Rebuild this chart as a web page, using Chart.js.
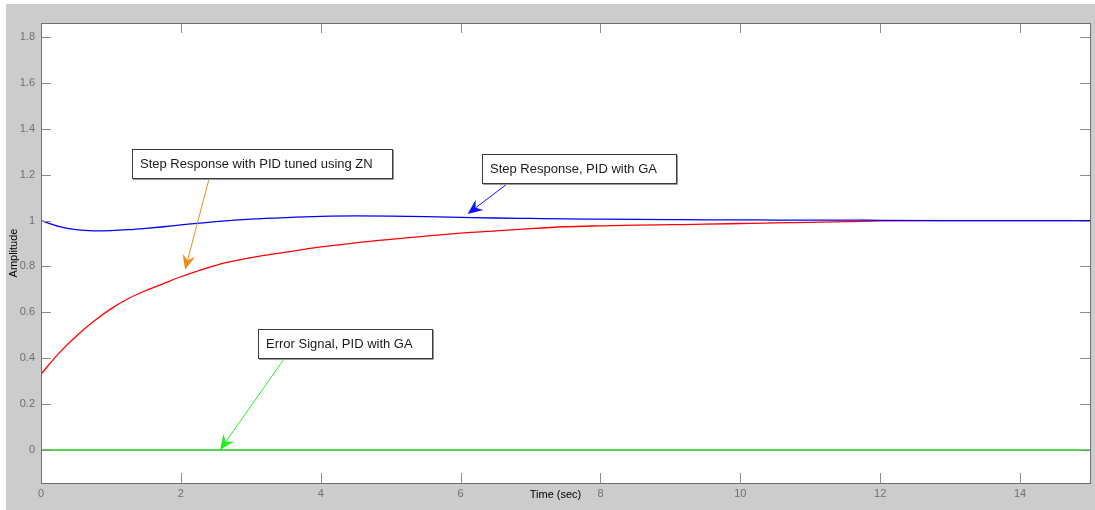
<!DOCTYPE html>
<html>
<head>
<meta charset="utf-8">
<script src="https://cdn.jsdelivr.net/npm/chart.js@4/dist/chart.umd.min.js"></script>
<style>
  html, body { margin: 0; padding: 0; background: #ffffff; }
  #wrap { width: 1095px; height: 510px; }
</style>
</head>
<body>
<div id="wrap"><canvas id="c" width="1095" height="510"></canvas></div>
<script>
// Sample times (sec)
const timeSec = [0, 0.25, 0.5, 0.75, 1, 1.25, 1.5, 1.75, 2, 2.5, 3, 3.5, 4, 4.5, 5, 5.5,
                 6, 6.5, 7, 7.5, 8, 8.5, 9, 9.5, 10, 10.5, 11, 11.5, 12, 13, 14, 15];

// Step response, PID tuned with GA
const stepGA = [1.0, 0.975, 0.960, 0.955, 0.956, 0.960, 0.966, 0.973, 0.981, 0.995, 1.006, 1.013,
                1.018, 1.020, 1.019, 1.017, 1.014, 1.011, 1.009, 1.007, 1.006, 1.005, 1.004, 1.003,
                1.003, 1.002, 1.002, 1.002, 1.001, 1.0, 1.0, 1.0];

// Step response, PID tuned with Ziegler-Nichols
const stepZN = [0.330, 0.420, 0.495, 0.560, 0.615, 0.660, 0.695, 0.725, 0.755, 0.805, 0.838, 0.862,
                0.885, 0.903, 0.918, 0.932, 0.945, 0.955, 0.965, 0.973, 0.977, 0.980, 0.982, 0.984,
                0.987, 0.990, 0.992, 0.995, 0.999, 1.0, 1.0, 1.0];

// Error signal, PID with GA
const errorGA = [0, 0, 0, 0, 0, 0, 0, 0, 0, 0, 0, 0, 0, 0, 0, 0,
                 0, 0, 0, 0, 0, 0, 0, 0, 0, 0, 0, 0, 0, 0, 0, 0];

// Axis ticks
const xTicks = [0, 2, 4, 6, 8, 10, 12, 14];
const xTickLabels = ['0', '2', '4', '6', '8', '10', '12', '14'];
const yTicks = [0, 0.2, 0.4, 0.6, 0.8, 1, 1.2, 1.4, 1.6, 1.8];
const yTickLabels = ['0', '0.2', '0.4', '0.6', '0.8', '1', '1.2', '1.4', '1.6', '1.8'];

const FONT = "'Liberation Sans', Arial, sans-serif";

// Text callouts with arrows (box top-left and arrow tip in data units)
const callouts = [
  { text: 'Step Response with PID tuned using ZN', boxAt: [1.30, 1.312], tailDx: 77, tip: [2.06, 0.785], color: '#e8901c' },
  { text: 'Step Response, PID with GA', boxAt: [6.30, 1.290], tailDx: 25, tip: [6.10, 1.029], color: '#1010ff' },
  { text: 'Error Signal, PID with GA', boxAt: [3.11, 0.527], tailDx: 26, tip: [2.56, 0.0], color: '#22ee22' }
];

const toPoints = (ys) => timeSec.map((t, i) => ({ x: t, y: ys[i] }));

const figurePlugin = {
  id: 'figure',
  beforeDraw(chart) {
    const { ctx, chartArea: a } = chart;
    ctx.save();
    ctx.fillStyle = '#cccccc';
    ctx.fillRect(6, 4, chart.width - 6, chart.height - 4);
    ctx.fillStyle = '#ffffff';
    ctx.fillRect(a.left, a.top, a.right - a.left, a.bottom - a.top);
    ctx.restore();
  },
  afterDatasetsDraw(chart) {
    const { ctx, chartArea: a, scales: { x, y } } = chart;
    ctx.save();
    // tick marks on all four sides, pointing inward
    ctx.strokeStyle = '#8c8c8c';
    ctx.lineWidth = 1;
    const tl = 10;
    ctx.beginPath();
    xTicks.forEach(v => {
      const px = Math.round(x.getPixelForValue(v)) + 0.5;
      ctx.moveTo(px, a.bottom); ctx.lineTo(px, a.bottom - tl);
      ctx.moveTo(px, a.top); ctx.lineTo(px, a.top + tl);
    });
    yTicks.forEach(v => {
      const py = Math.round(y.getPixelForValue(v)) + 0.5;
      ctx.moveTo(a.left, py); ctx.lineTo(a.left + tl, py);
      ctx.moveTo(a.right, py); ctx.lineTo(a.right - tl, py);
    });
    ctx.stroke();
    // axes box
    ctx.strokeStyle = '#6e6e6e';
    ctx.strokeRect(Math.round(a.left) + 0.5, Math.round(a.top) + 0.5,
                   Math.round(a.right - a.left), Math.round(a.bottom - a.top));
    ctx.restore();
  },
  afterDraw(chart) {
    const { ctx, chartArea: a, scales: { x, y } } = chart;
    ctx.save();
    // x axis title
    ctx.font = '11px ' + FONT;
    ctx.fillStyle = '#000000';
    ctx.textAlign = 'center';
    ctx.textBaseline = 'middle';
    ctx.fillText('Time (sec)', (a.left + a.right) / 2 - 10, 495);

    // callouts
    ctx.font = '13px ' + FONT;
    callouts.forEach(c => {
      const bx = Math.round(x.getPixelForValue(c.boxAt[0]));
      const by = Math.round(y.getPixelForValue(c.boxAt[1]));
      const w = Math.round(ctx.measureText(c.text).width) + 27;
      const h = 29;
      const sx = bx + c.tailDx, sy = by + h + 1;
      const tx = x.getPixelForValue(c.tip[0]), ty = y.getPixelForValue(c.tip[1]);
      // arrow shaft
      const ang = Math.atan2(ty - sy, tx - sx);
      const len = 15, half = 6.5, notch = 5;
      const bxh = tx - len * Math.cos(ang), byh = ty - len * Math.sin(ang);
      ctx.strokeStyle = c.color;
      ctx.lineWidth = 1;
      ctx.beginPath();
      ctx.moveTo(sx, sy);
      ctx.lineTo(bxh + notch * Math.cos(ang), byh + notch * Math.sin(ang));
      ctx.stroke();
      // arrow head
      const nx = -Math.sin(ang), ny = Math.cos(ang);
      ctx.fillStyle = c.color;
      ctx.beginPath();
      ctx.moveTo(tx, ty);
      ctx.lineTo(bxh + nx * half, byh + ny * half);
      ctx.lineTo(bxh + notch * Math.cos(ang), byh + notch * Math.sin(ang));
      ctx.lineTo(bxh - nx * half, byh - ny * half);
      ctx.closePath();
      ctx.fill();
      // text box
      ctx.fillStyle = '#ffffff';
      ctx.fillRect(bx, by, w, h);
      ctx.strokeStyle = '#9a9a9a';
      ctx.beginPath();
      ctx.moveTo(bx + w + 1.5, by + 1); ctx.lineTo(bx + w + 1.5, by + h + 1.5); ctx.lineTo(bx + 1, by + h + 1.5);
      ctx.stroke();
      ctx.strokeStyle = '#3a3a3a';
      ctx.strokeRect(bx + 0.5, by + 0.5, w, h);
      ctx.fillStyle = '#1a1a1a';
      ctx.textAlign = 'left';
      ctx.textBaseline = 'middle';
      ctx.fillText(c.text, bx + 8, by + h / 2 + 1);
    });
    ctx.restore();
  }
};

new Chart(document.getElementById('c'), {
  type: 'line',
  data: {
    datasets: [
      { label: 'Step Response, PID with GA', data: toPoints(stepGA), borderColor: '#0000ff', borderWidth: 1.3 },
      { label: 'Step Response with PID tuned using ZN', data: toPoints(stepZN), borderColor: '#ff0000', borderWidth: 1.3 },
      { label: 'Error Signal, PID with GA', data: toPoints(errorGA), borderColor: '#1ec81e', borderWidth: 1.5 }
    ]
  },
  options: {
    responsive: false,
    animation: false,
    events: [],
    layout: { padding: { left: 6, top: 23, right: 5, bottom: 0 } },
    elements: {
      point: { radius: 0 },
      line: { cubicInterpolationMode: 'monotone', fill: false }
    },
    plugins: { legend: { display: false }, tooltip: { enabled: false } },
    scales: {
      x: {
        type: 'linear',
        min: 0,
        max: 15,
        afterFit: s => { s.height = 27; },
        afterBuildTicks: s => { s.ticks = xTicks.map(v => ({ value: v })); },
        grid: { display: false, drawTicks: false },
        border: { display: false },
        ticks: {
          color: '#707070',
          font: { family: FONT, size: 11 },
          padding: 4,
          maxRotation: 0,
          autoSkip: false,
          callback: (v, i) => xTickLabels[i]
        }
      },
      y: {
        type: 'linear',
        min: -0.144,
        max: 1.861,
        afterFit: s => { s.width = 35; },
        afterBuildTicks: s => { s.ticks = yTicks.map(v => ({ value: v })); },
        grid: { display: false, drawTicks: false },
        border: { display: false },
        title: {
          display: true,
          text: 'Amplitude',
          color: '#000000',
          font: { family: FONT, size: 11 },
          padding: { top: 1.5, bottom: 0 }
        },
        ticks: {
          color: '#707070',
          font: { family: FONT, size: 11 },
          padding: 6,
          autoSkip: false,
          callback: (v, i) => yTickLabels[i]
        }
      }
    }
  },
  plugins: [figurePlugin]
});
</script>
</body>
</html>
